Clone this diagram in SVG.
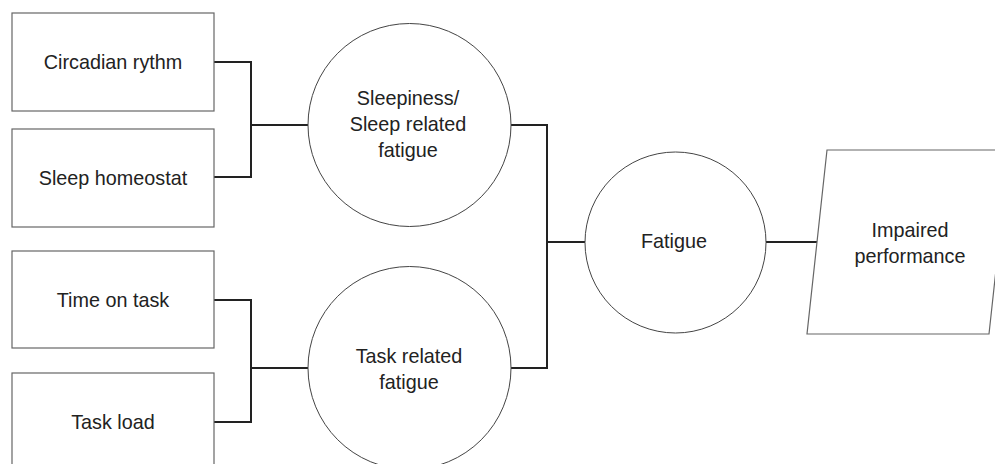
<svg xmlns="http://www.w3.org/2000/svg" width="995" height="464" viewBox="0 0 995 464">
<style>
.box{fill:#fff;stroke:#666;stroke-width:1.2}
.circ{fill:#fff;stroke:#444;stroke-width:1}
.conn{fill:none;stroke:#222;stroke-width:2}
text{font-family:"Liberation Sans",Arial,sans-serif;font-size:19.8px;fill:#222;text-anchor:middle}
</style>
<rect width="995" height="464" fill="#fff"/>
<g id="connectors">
<polyline class="conn" points="214,62 251,62 251,177 214,177"/>
<line class="conn" x1="251" y1="125" x2="308" y2="125"/>
<polyline class="conn" points="214,300 251,300 251,422 214,422"/>
<line class="conn" x1="251" y1="368" x2="308" y2="368"/>
<polyline class="conn" points="511,125 547,125 547,368 511,368"/>
<line class="conn" x1="547" y1="242" x2="585" y2="242"/>
<line class="conn" x1="766" y1="242" x2="818" y2="242"/>
</g>
<g id="circadian"><rect class="box" x="12" y="13" width="202" height="98"/><text x="113" y="69">Circadian rythm</text></g>
<g id="homeostat"><rect class="box" x="12" y="129" width="202" height="98"/><text x="113" y="185">Sleep homeostat</text></g>
<g id="timeontask"><rect class="box" x="12" y="251" width="202" height="97"/><text x="113" y="307">Time on task</text></g>
<g id="taskload"><rect class="box" x="12" y="373" width="202" height="98"/><text x="113" y="429">Task load</text></g>
<g id="sleepiness"><circle class="circ" cx="409.5" cy="125" r="101.5"/><text x="408" y="105">Sleepiness/</text><text x="408" y="131">Sleep related</text><text x="408" y="157">fatigue</text></g>
<g id="taskfatigue"><circle class="circ" cx="409.5" cy="368" r="101.5"/><text x="409" y="363">Task related</text><text x="409" y="389">fatigue</text></g>
<g id="fatigue"><circle class="circ" cx="675.5" cy="242.5" r="90.5"/><text x="674" y="248">Fatigue</text></g>
<g id="performance"><polygon class="box" points="827,150 1009,150 989,334 807,334"/><text x="910" y="237">Impaired</text><text x="910" y="263">performance</text></g>
</svg>
